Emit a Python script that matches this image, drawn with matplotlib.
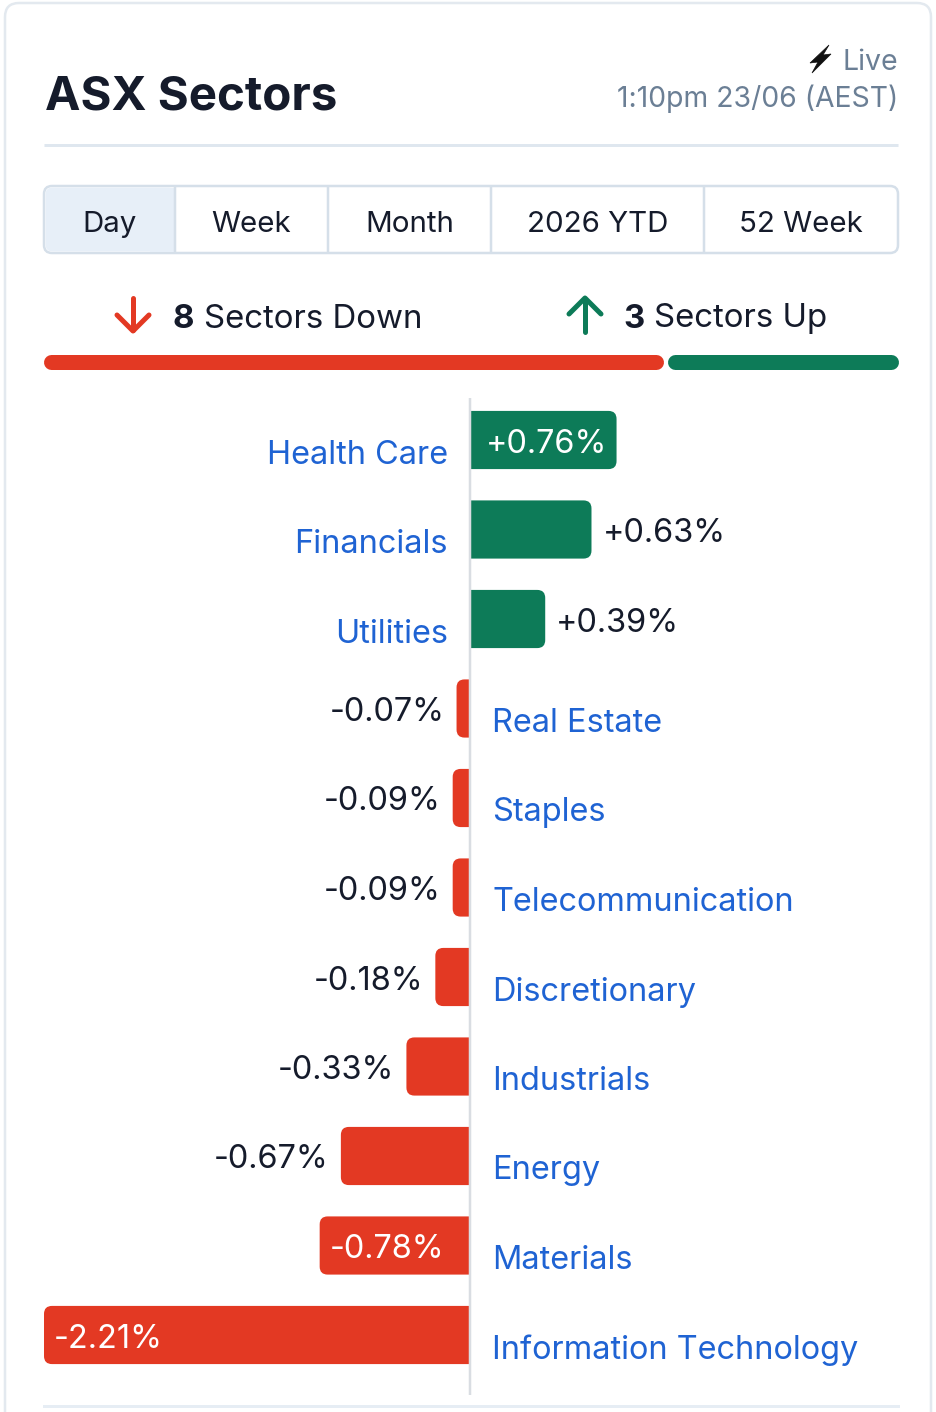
import matplotlib
matplotlib.use("Agg")
import matplotlib.pyplot as plt
from matplotlib.patches import FancyBboxPatch, Rectangle, Polygon

# data
sectors = ["Health Care", "Financials", "Utilities", "Real Estate", "Staples",
           "Telecommunication", "Discretionary", "Industrials", "Energy",
           "Materials", "Information Technology"]
changes = [0.76, 0.63, 0.39, -0.07, -0.09, -0.09, -0.18, -0.33, -0.67, -0.78, -2.21]
tabs = ["Day", "Week", "Month", "2026 YTD", "52 Week"]
title = "ASX Sectors"
timestamp = "1:10pm 23/06 (AEST)"

RED = "#e33923"
GREEN = "#0d7b58"
BLUE = "#1f63d3"
DARK = "#151b2b"
GREY = "#6b7f95"
LINE = "#dfe7ef"
FONT = ["Inter", "DejaVu Sans"]

W, H = 936, 1412
plt.rcParams["font.family"] = FONT


def px(v):
    # pixel size -> points at dpi 100
    return v * 0.72


fig = plt.figure(figsize=(W / 100, H / 100), dpi=100)
fig.patch.set_facecolor("white")

# page axes in pixel coordinates
bg = fig.add_axes([0, 0, 1, 1])
bg.set_xlim(0, W)
bg.set_ylim(H, 0)
bg.axis("off")

# card border
bg.add_patch(FancyBboxPatch((5, 3), 926, 1440, boxstyle="round,pad=0,rounding_size=14",
                            fc="white", ec="#e3e9ef", lw=px(2.5)))

# header
bg.text(45, 98, title, fontsize=px(47.5), fontweight="bold", color=DARK, va="center", ha="left")
bg.text(898, 63, "Live", fontsize=px(28.5), color=GREY, va="center", ha="right")
bg.add_patch(Polygon([(829, 45), (810, 63), (818, 62), (812, 73), (831, 54), (823, 55)],
                     closed=True, fc="#111111", ec="#111111", lw=0.5))
bg.text(898, 99, timestamp, fontsize=px(28.3), color=GREY, va="center", ha="right")
bg.plot([44, 898], [145, 145], color=LINE, lw=px(3), solid_capstyle="butt")

# tabs
edges = [44, 175, 328, 491, 704, 898]
bg.add_patch(FancyBboxPatch((44, 186), 854, 67, boxstyle="round,pad=0,rounding_size=8",
                            fc="white", ec="#d5dfe9", lw=px(2.5), zorder=2))
bg.add_patch(FancyBboxPatch((45.5, 187.5), 129.5, 64, boxstyle="round,pad=0,rounding_size=7",
                            fc="#e7eff8", ec="none", zorder=2))
bg.add_patch(Rectangle((150, 187.5), 25, 64, fc="#e7eff8", ec="none", zorder=2))
for e in edges[1:-1]:
    bg.plot([e, e], [187, 252], color="#d5dfe9", lw=px(2.5), zorder=3)
for i, t in enumerate(tabs):
    bg.text((edges[i] + edges[i + 1]) / 2, 224, t, fontsize=px(29.5), color=DARK,
            ha="center", va="center", zorder=4)

# up / down summary
n_down = sum(1 for c in changes if c < 0)
n_up = sum(1 for c in changes if c > 0)
bg.plot([133, 133], [298, 330], color=RED, lw=px(5), solid_capstyle="round")
bg.plot([117, 133, 149], [315, 331, 315], color=RED, lw=px(5),
        solid_capstyle="round", solid_joinstyle="round")
bg.text(173, 319, str(n_down), fontsize=px(33), fontweight="bold", color=DARK, va="center")
bg.text(204, 319, "Sectors Down", fontsize=px(33), color=DARK, va="center")
bg.plot([585, 585], [299, 332], color=GREEN, lw=px(5), solid_capstyle="round")
bg.plot([569, 585, 601], [314, 298, 314], color=GREEN, lw=px(5),
        solid_capstyle="round", solid_joinstyle="round")
bg.text(623, 319, str(n_up), fontsize=px(33), fontweight="bold", color=DARK, va="center")
bg.text(654, 319, "Sectors Up", fontsize=px(33), color=DARK, va="center")

split = 44 + 854 * n_down / (n_down + n_up)
bg.plot([51, split - 9], [362, 362], color=RED, lw=px(15), solid_capstyle="round")
bg.plot([split + 10, 891], [362, 362], color=GREEN, lw=px(15), solid_capstyle="round")

# bottom separator
bg.plot([44, 898], [1406, 1406], color="#e6edf4", lw=px(3))

# bar chart axes
step = 89.5
top_px, bot_px = 398, 1395
ax = fig.add_axes([44 / W, (H - bot_px) / H, 854 / W, (bot_px - top_px) / H])
ax.set_xlim(-2.21, 2.22)
ax.set_ylim((bot_px - 440) / step, (top_px - 440) / step)
ax.axis("off")
ax.patch.set_alpha(0)

ypos = list(range(len(sectors)))
bars = ax.barh(ypos, changes, height=0.65,
               color=[GREEN if c > 0 else RED for c in changes], lw=0)

xscale = 854 / 4.43  # px per unit
aspect = xscale / step
r = 8 / xscale
for b, c in zip(bars, changes):
    x0, y0, w, h = b.get_x(), b.get_y(), b.get_width(), b.get_height()
    col = b.get_facecolor()
    b.remove()
    width = abs(w)
    rr = min(r, width)
    # extend past zero and clip, so only the outer corners stay rounded
    if c > 0:
        patch = FancyBboxPatch((-rr, y0), width + rr, h,
                               boxstyle=f"round,pad=0,rounding_size={rr}",
                               mutation_aspect=aspect, fc=col, ec="none", zorder=2)
        clip = Rectangle((0, y0 - 1), 5, h + 2, transform=ax.transData)
    else:
        patch = FancyBboxPatch((-width, y0), width + rr, h,
                               boxstyle=f"round,pad=0,rounding_size={rr}",
                               mutation_aspect=aspect, fc=col, ec="none", zorder=2)
        clip = Rectangle((-5, y0 - 1), 5, h + 2, transform=ax.transData)
    ax.add_patch(patch)
    patch.set_clip_path(clip)

ax.axvline(0, color="#d9dde2", lw=px(2.5), zorder=3)

FS = px(32.5)
for y, name, c in zip(ypos, sectors, changes):
    label = f"{c:+.2f}%"
    if c > 0:
        ax.annotate(name, (0, y), xytext=(-22, -15), textcoords="offset pixels",
                    ha="right", va="center", fontsize=FS, color=BLUE)
    else:
        ax.annotate(name, (0, y), xytext=(22, -15), textcoords="offset pixels",
                    ha="left", va="center", fontsize=FS, color=BLUE)
    inside = abs(c) >= 0.7
    if c > 0:
        if inside:
            ax.annotate(label, (c, y), xytext=(-9, -4), textcoords="offset pixels",
                        ha="right", va="center", fontsize=FS, color="white")
        else:
            ax.annotate(label, (c, y), xytext=(11, -4), textcoords="offset pixels",
                        ha="left", va="center", fontsize=FS, color=DARK)
    else:
        if inside:
            ax.annotate(label, (c, y), xytext=(10, -4), textcoords="offset pixels",
                        ha="left", va="center", fontsize=FS, color="white")
        else:
            ax.annotate(label, (c, y), xytext=(-12, -4), textcoords="offset pixels",
                        ha="right", va="center", fontsize=FS, color=DARK)

fig.savefig("out.png", dpi=100, facecolor="white")
